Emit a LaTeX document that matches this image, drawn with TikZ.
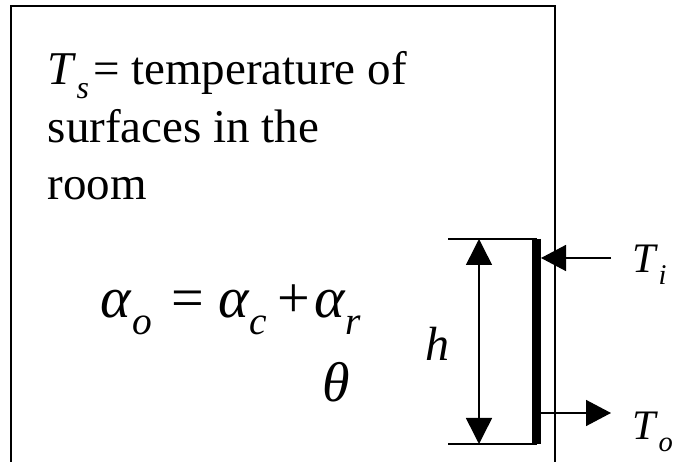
\documentclass[tikz,border=0pt]{standalone}
\usepackage{fontspec}
\setmainfont{Liberation Serif}
\usetikzlibrary{arrows.meta}
\newcommand\isub[2]{\textit{#1}\raisebox{-0.28em}{\scalebox{0.68}{\textit{#2}}}}
\begin{document}
\begin{tikzpicture}[x=1pt,y=-1pt,line width=1.5pt,
  tip/.style={-{Triangle[length=25pt,width=26pt]}},
  dimtips/.style={{Triangle[length=26pt,width=26pt]}-{Triangle[length=26pt,width=26pt]}},
  txt/.style={inner sep=0pt,anchor=base west}]
  \useasboundingbox (0,0) rectangle (673,462);
  \coordinate (BL) at (11,462);
  \coordinate (TL) at (11,6);
  \coordinate (TR) at (555,6);
  \coordinate (BR) at (555,462);
  \coordinate (WT) at (536.5,239);
  \coordinate (WB) at (536.5,444);
  \coordinate (DT) at (448,239);
  \coordinate (DB) at (448,444);
  \coordinate (HT) at (479,239);
  \coordinate (HB) at (479,444);
  \coordinate (IA) at (611,258);
  \coordinate (IB) at (541,258);
  \coordinate (OA) at (541,413);
  \coordinate (OB) at (611,413);
  \draw[line width=2pt] (BL)--(TL)--(TR)--(BR);
  \draw[line width=9pt] (WT)--(WB);
  \draw (DT)--(WT);
  \draw (DB)--(WB);
  \draw[dimtips] (HT)--(HB);
  \draw[tip] (IA)--(IB);
  \draw[tip] (OA)--(OB);
  \node[txt,align=left,font=\fontsize{47}{57.5}\selectfont] (def) at (47,200)
    {\isub{T}{s}\kern4pt= temperature of\\surfaces in the\\room};
  \node[txt,font=\fontsize{58}{60}\selectfont] (eq) at (100,318)
    {\isub{α}{o}\hspace{20pt}=\hspace{14pt}\isub{α}{c}\hspace{10pt}+\hspace{4pt}\isub{α}{r}};
  \node[inner sep=0pt,font=\fontsize{56}{60}\selectfont] (theta) at (336,382) {\textit{θ}};
  \node[txt,font=\fontsize{48}{50}\selectfont] (h) at (425,361) {\textit{h}};
  \node[txt,font=\fontsize{42}{44}\selectfont] (Ti) at (632,273) {\isub{T}{i}};
  \node[txt,font=\fontsize{42}{44}\selectfont] (To) at (632,440) {\isub{T}{o}};
\end{tikzpicture}
\end{document}
